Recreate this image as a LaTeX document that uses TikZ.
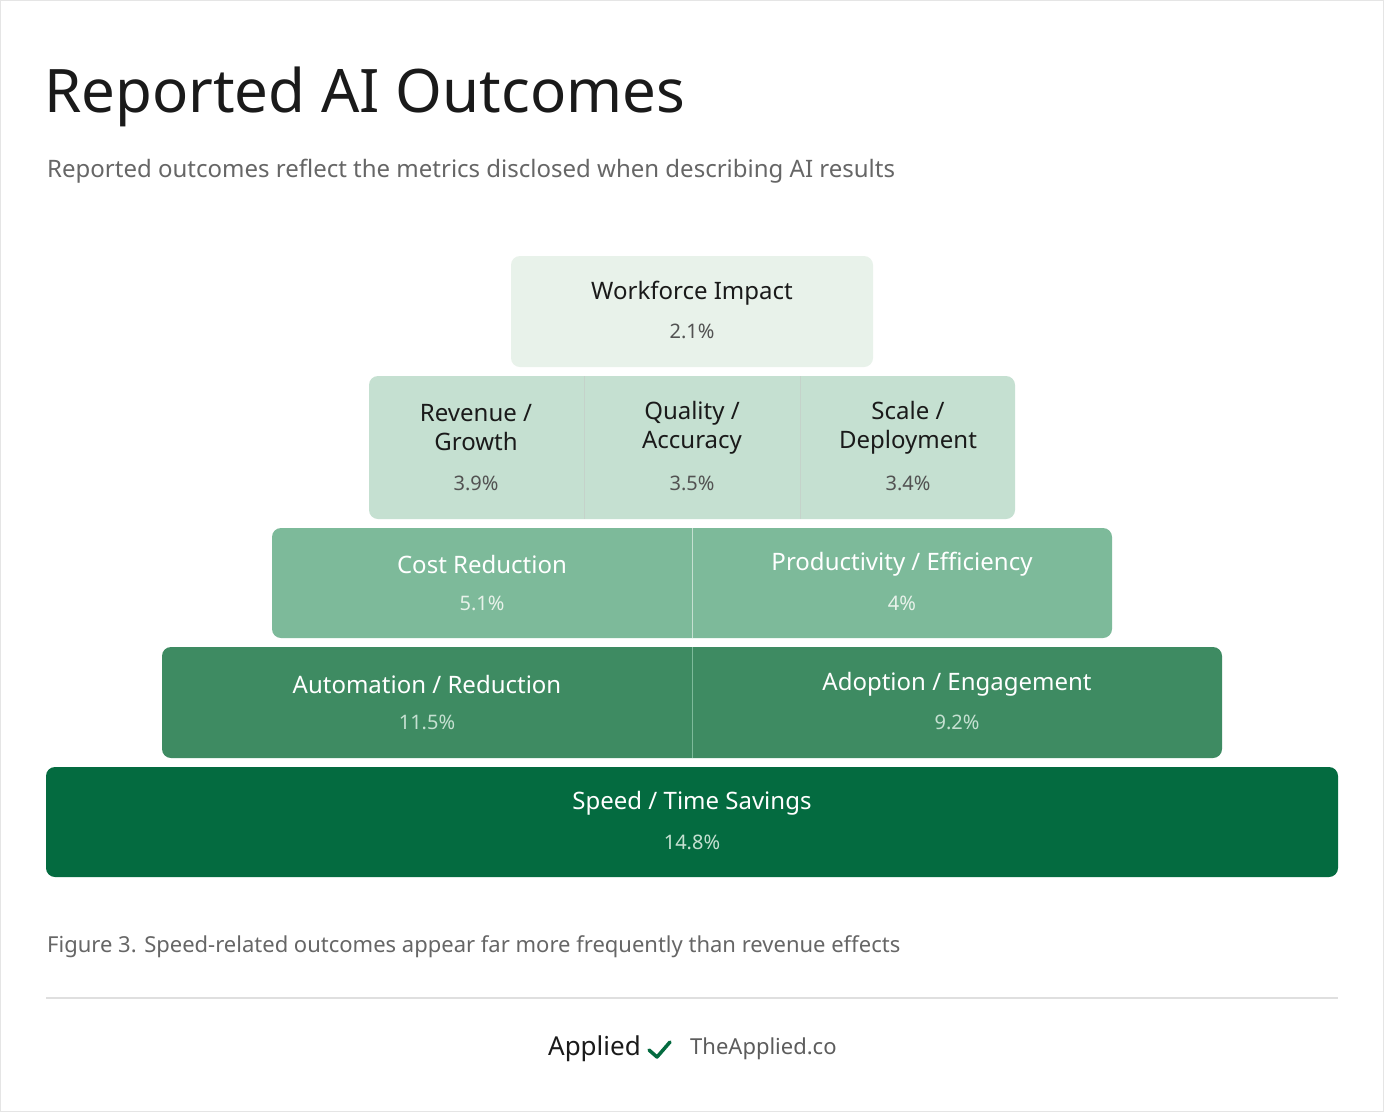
\documentclass[tikz,border=0pt]{standalone}
\usepackage{fontspec}
\setmainfont{Liberation Sans}
\newfontfamily\uif{Noto Sans}
\definecolor{c1}{HTML}{E8F2EA}
\definecolor{c2}{HTML}{C5E0D1}
\definecolor{c3}{HTML}{7DBA9A}
\definecolor{c4}{HTML}{3E8B62}
\definecolor{c5}{HTML}{046B40}
\definecolor{ink}{HTML}{1A1A1A}
\definecolor{gr}{HTML}{666666}
\begin{document}
\begin{tikzpicture}[x=1pt,y=-1pt,
  lbl/.style={font=\uif\fontsize{24}{29}\selectfont\bfseries,align=center},
  pct/.style={font=\uif\fontsize{20}{24}\selectfont},
  blk/.style={rounded corners=9pt},
  div/.style={line width=1pt}]
\useasboundingbox (0,0) rectangle (1384,1112);
\fill[white,draw=gray!20] (0.5,0.5) rectangle (1383.5,1111.5);
\node[anchor=west,font=\uif\fontsize{60}{70}\selectfont\bfseries,text=ink,inner sep=0] (title) at (44,97) {Reported AI Outcomes};
\node[anchor=west,font=\uif\fontsize{24}{28}\selectfont,text=gr,inner sep=0] (sub) at (47,171) {Reported outcomes reflect the metrics disclosed when describing AI results};
% row 1
\fill[c1,blk] (511,256) rectangle (873,367);
\node[lbl,text=ink] (wf) at (692,293) {Workforce Impact};
\node[pct,text=gr!80!black] (wfp) at (692,331) {2.1\%};
% row 2
\fill[c2,blk] (369,376) rectangle (1015,519);
\draw[div,c2!80!black!60] (584,376) -- (584,519) (800,376) -- (800,519);
\node[lbl,text=ink] (rg) at (476,428) {Revenue /\\Growth};
\node[pct,text=gr!80!black] (rgp) at (476,483) {3.9\%};
\node[lbl,text=ink] (qa) at (692,428) {Quality /\\Accuracy};
\node[pct,text=gr!80!black] (qap) at (692,483) {3.5\%};
\node[lbl,text=ink] (sd) at (908,428) {Scale /\\Deployment};
\node[pct,text=gr!80!black] (sdp) at (908,483) {3.4\%};
% row 3
\fill[c3,blk] (272,528) rectangle (1112,638);
\draw[div,c2] (692,528) -- (692,638);
\node[lbl,text=white] (cr) at (482,564) {Cost Reduction};
\node[pct,text=c1] (crp) at (482,603) {5.1\%};
\node[lbl,text=white] (pe) at (902,564) {Productivity / Efficiency};
\node[pct,text=c1] (pep) at (902,603) {4\%};
% row 4
\fill[c4,blk] (162,647) rectangle (1222,758);
\draw[div,c3] (692,647) -- (692,758);
\node[lbl,text=white] (ar) at (427,684) {Automation / Reduction};
\node[pct,text=c2] (arp) at (427,722) {11.5\%};
\node[lbl,text=white] (ae) at (957,684) {Adoption / Engagement};
\node[pct,text=c2] (aep) at (957,722) {9.2\%};
% row 5
\fill[c5,blk] (46,767) rectangle (1338,877);
\node[lbl,text=white] (st) at (692,803) {Speed / Time Savings};
\node[pct,text=c2] (stp) at (692,842) {14.8\%};
% caption
\node[anchor=west,font=\uif\fontsize{22}{26}\selectfont,text=gr,inner sep=0] (cap) at (47,947) {\textbf{Figure 3.} Speed-related outcomes appear far more frequently than revenue effects};
\draw[gray!25,line width=1.2pt] (46,998) -- (1338,998);
\node[anchor=east,font=\uif\fontsize{26}{30}\selectfont\bfseries,text=ink,inner sep=0] (brand) at (641,1049) {Applied};
\coordinate (ck1) at (649,1050);
\coordinate (ck2) at (657,1057);
\coordinate (ck3) at (670,1042);
\draw[c5,line width=3.5pt,line cap=round,line join=round] (ck1) -- (ck2) -- (ck3);
\node[anchor=west,font=\uif\fontsize{22}{26}\selectfont,text=gr!90!black,inner sep=0] (site) at (690,1049) {TheApplied.co};
\end{tikzpicture}
\end{document}
